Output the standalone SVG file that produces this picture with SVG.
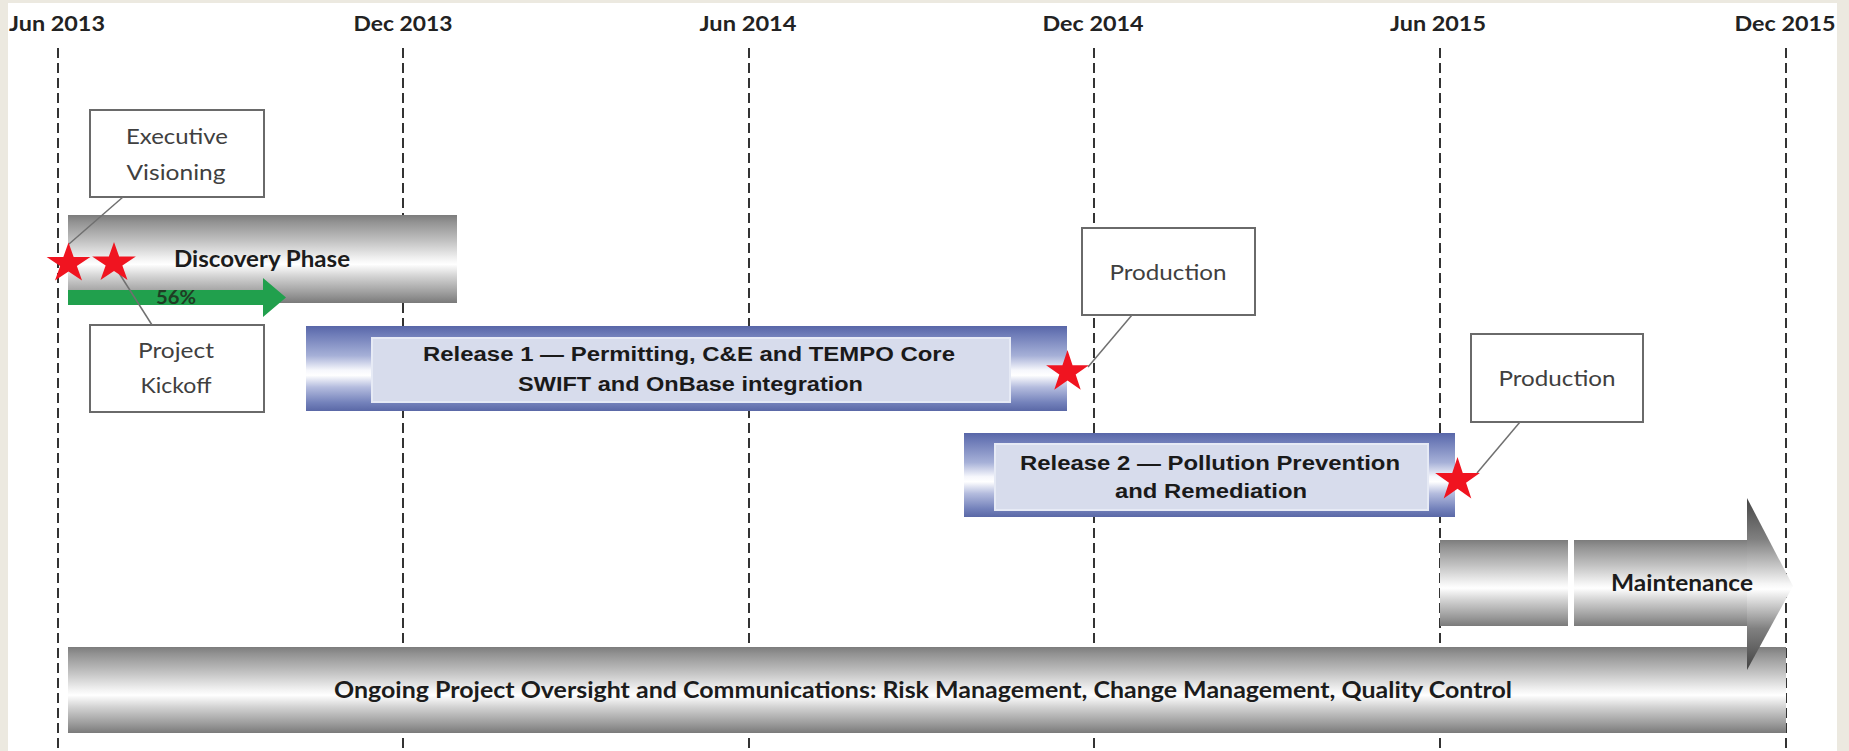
<svg xmlns="http://www.w3.org/2000/svg" width="1849" height="751" viewBox="0 0 1849 751">
  <defs>
    <!-- cylinder shading for grey bars -->
    <linearGradient id="grayCyl" x1="0" y1="0" x2="0" y2="1">
      <stop offset="0" stop-color="#7c7c7c"/>
      <stop offset="0.08" stop-color="#929292"/>
      <stop offset="0.3" stop-color="#c3c3c3"/>
      <stop offset="0.5" stop-color="#f3f3f3"/>
      <stop offset="0.56" stop-color="#ffffff"/>
      <stop offset="0.7" stop-color="#d2d2d2"/>
      <stop offset="0.9" stop-color="#999999"/>
      <stop offset="1" stop-color="#7a7a7a"/>
    </linearGradient>
    <!-- cylinder shading for release bars -->
    <linearGradient id="blueCyl" x1="0" y1="0" x2="0" y2="1">
      <stop offset="0" stop-color="#5866a8"/>
      <stop offset="0.1" stop-color="#6e7cb8"/>
      <stop offset="0.35" stop-color="#a6b0d7"/>
      <stop offset="0.52" stop-color="#f6f7fc"/>
      <stop offset="0.58" stop-color="#ffffff"/>
      <stop offset="0.72" stop-color="#b4bcde"/>
      <stop offset="0.9" stop-color="#7482bb"/>
      <stop offset="1" stop-color="#5a68a6"/>
    </linearGradient>
    <!-- arrow head shading -->
    <linearGradient id="headCyl" x1="0" y1="0" x2="0" y2="1">
      <stop offset="0" stop-color="#454545"/>
      <stop offset="0.24" stop-color="#808080"/>
      <stop offset="0.5" stop-color="#f6f6f6"/>
      <stop offset="0.53" stop-color="#ffffff"/>
      <stop offset="0.76" stop-color="#808080"/>
      <stop offset="1" stop-color="#424242"/>
    </linearGradient>
    <path id="star" d="M0,-1 L0.2245,-0.309 L0.9511,-0.309 L0.3633,0.118 L0.5878,0.809 L0,0.382 L-0.5878,0.809 L-0.3633,0.118 L-0.9511,-0.309 L-0.2245,-0.309 Z"/>
  </defs>
  <style>
    .axis{font-family:"Lato","Open Sans",sans-serif;font-weight:700;font-size:21px;fill:#222;text-anchor:middle}
    .grid{stroke:#333;stroke-width:2;stroke-dasharray:10 5;fill:none}
    .note rect{fill:#fff;stroke:#6a6a6a;stroke-width:2}
    .note text{font-family:"Lato","Open Sans",sans-serif;font-size:22px;fill:#404040;text-anchor:middle}
    .barText{font-family:"Lato","Open Sans",sans-serif;font-weight:700;font-size:22px;fill:#1c1c1c;text-anchor:middle}
    .relText{font-family:"Liberation Sans",Arial,sans-serif;font-weight:700;font-size:20px;fill:#1a1a1a;text-anchor:middle}
    .inner{fill:#d7dcec;stroke:#e6eaf5;stroke-width:2}
    .leader{stroke:#707070;stroke-width:1.5;fill:none}
    .star{fill:#f01420}
  </style>

  <!-- page -->
  <rect x="0" y="0" width="1849" height="751" fill="#ece9e0"/>
  <rect x="8" y="3" width="1829" height="748" fill="#ffffff"/>

  <!-- time axis -->
  <g id="axis">
    <text class="axis" x="57" y="31" textLength="96" lengthAdjust="spacingAndGlyphs">Jun 2013</text>
    <text class="axis" x="403" y="31" textLength="99" lengthAdjust="spacingAndGlyphs">Dec 2013</text>
    <text class="axis" x="748" y="31" textLength="97" lengthAdjust="spacingAndGlyphs">Jun 2014</text>
    <text class="axis" x="1093" y="31" textLength="101" lengthAdjust="spacingAndGlyphs">Dec 2014</text>
    <text class="axis" x="1438" y="31" textLength="96" lengthAdjust="spacingAndGlyphs">Jun 2015</text>
    <text class="axis" x="1785" y="31" textLength="101" lengthAdjust="spacingAndGlyphs">Dec 2015</text>
    <line class="grid" x1="58" y1="48" x2="58" y2="751"/>
    <line class="grid" x1="403" y1="48" x2="403" y2="751"/>
    <line class="grid" x1="749" y1="48" x2="749" y2="751"/>
    <line class="grid" x1="1094" y1="48" x2="1094" y2="751"/>
    <line class="grid" x1="1440" y1="48" x2="1440" y2="751"/>
    <line class="grid" x1="1786" y1="48" x2="1786" y2="751"/>
  </g>

  <!-- phases -->
  <g id="discovery">
    <rect x="68" y="215" width="389" height="88" fill="url(#grayCyl)"/>
    <text class="barText" x="262" y="267" font-size="21" textLength="176" lengthAdjust="spacingAndGlyphs">Discovery Phase</text>
  </g>

  <g id="progress">
    <polygon points="68,290 263,290 263,278 286,297.5 263,317 263,305 68,305" fill="#21a04d"/>
    <text x="176" y="304" font-family="Lato, 'Open Sans', sans-serif" font-weight="700" font-size="18" fill="#1f3d24" text-anchor="middle" textLength="40" lengthAdjust="spacingAndGlyphs">56%</text>
  </g>

  <g id="release1">
    <rect x="306" y="326" width="761" height="85" fill="url(#blueCyl)"/>
    <rect class="inner" x="372" y="338" width="638" height="64"/>
    <text class="relText" x="689" y="360.5" textLength="532" lengthAdjust="spacingAndGlyphs">Release 1 — Permitting, C&amp;E and TEMPO Core</text>
    <text class="relText" x="690.5" y="391" textLength="345" lengthAdjust="spacingAndGlyphs">SWIFT and OnBase integration</text>
  </g>

  <g id="release2">
    <rect x="964" y="433" width="491" height="84" fill="url(#blueCyl)"/>
    <rect class="inner" x="995" y="444" width="433" height="66"/>
    <text class="relText" x="1210" y="469.5" textLength="380" lengthAdjust="spacingAndGlyphs">Release 2 — Pollution Prevention</text>
    <text class="relText" x="1211" y="498" textLength="192" lengthAdjust="spacingAndGlyphs">and Remediation</text>
  </g>

  <g id="oversight">
    <rect x="68" y="647" width="1718" height="86" fill="url(#grayCyl)"/>
    <text class="barText" x="923" y="698" textLength="1178" lengthAdjust="spacingAndGlyphs">Ongoing Project Oversight and Communications: Risk Management, Change Management, Quality Control</text>
  </g>

  <g id="maintenance">
    <rect x="1440" y="540" width="128" height="86" fill="url(#grayCyl)"/>
    <rect x="1574" y="540" width="175" height="86" fill="url(#grayCyl)"/>
    <polygon points="1747,498 1793,586 1747,670" fill="url(#headCyl)"/>
    <text class="barText" x="1682" y="591" textLength="142" lengthAdjust="spacingAndGlyphs">Maintenance</text>
  </g>

  <!-- milestone callouts -->
  <g id="note-executive" class="note">
    <rect x="90" y="110" width="174" height="87"/>
    <text x="177" y="144" textLength="102" lengthAdjust="spacingAndGlyphs">Executive</text>
    <text x="176" y="180" textLength="99" lengthAdjust="spacingAndGlyphs">Visioning</text>
  </g>
  <g id="note-kickoff" class="note">
    <rect x="90" y="325" width="174" height="87"/>
    <text x="176" y="358" textLength="76" lengthAdjust="spacingAndGlyphs">Project</text>
    <text x="176" y="393" textLength="71" lengthAdjust="spacingAndGlyphs">Kickoff</text>
  </g>
  <g id="note-production1" class="note">
    <rect x="1082" y="228" width="173" height="87"/>
    <text x="1168" y="280" textLength="117" lengthAdjust="spacingAndGlyphs">Production</text>
  </g>
  <g id="note-production2" class="note">
    <rect x="1471" y="334" width="172" height="88"/>
    <text x="1557" y="386" textLength="117" lengthAdjust="spacingAndGlyphs">Production</text>
  </g>

  <!-- callout leaders -->
  <g id="connectors">
    <line class="leader" x1="123" y1="197" x2="69" y2="244"/>
    <line class="leader" x1="119" y1="273" x2="152" y2="325"/>
    <line class="leader" x1="1132" y1="315" x2="1088" y2="367"/>
    <line class="leader" x1="1520" y1="422" x2="1477" y2="473"/>
  </g>

  <!-- milestone stars -->
  <g id="milestones" class="star">
    <use href="#star" transform="translate(68.5 263.5) scale(23 21)"/>
    <use href="#star" transform="translate(114 263) scale(23 21)"/>
    <use href="#star" transform="translate(1067.5 372) scale(22.5 22)"/>
    <use href="#star" transform="translate(1457.5 480) scale(23.5 23)"/>
  </g>
</svg>
